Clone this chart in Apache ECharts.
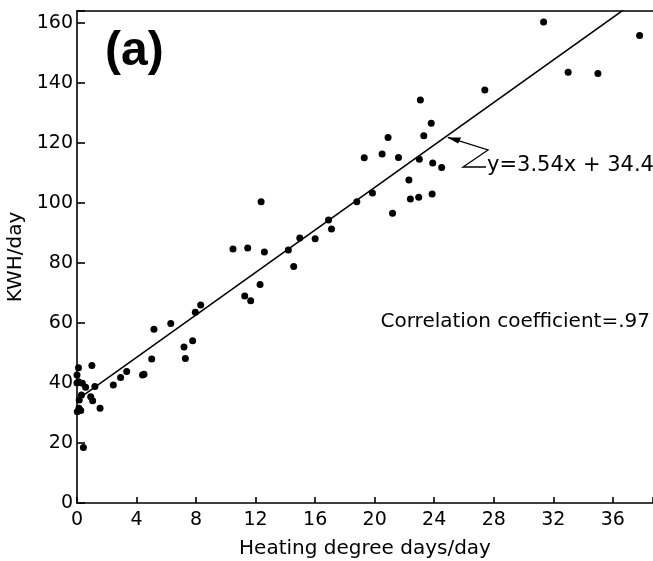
<!DOCTYPE html>
<html><head><meta charset="utf-8">
<script src="https://cdn.jsdelivr.net/npm/echarts@6/dist/echarts.min.js"></script>
<style>html,body{margin:0;padding:0;background:#fff}#c{width:653px;height:561px}</style>
</head><body><div id="c"></div>
<script>
const hdd = [0.0,0.1,0.1,0.36,0.58,1.0,1.2,0.3,0.15,0.92,1.05,1.55,0.13,0.25,0.02,0.43,0.0,
  2.44,2.93,3.34,4.4,4.5,5.02,5.17,6.3,7.19,7.28,7.77,7.95,8.31,
  10.48,11.27,11.47,11.67,12.3,12.37,12.59,14.2,14.56,14.97,16.0,16.9,17.1,
  18.8,19.3,19.85,20.5,20.9,21.2,21.6,22.3,22.4,22.96,23.0,23.07,23.3,23.8,23.86,23.9,24.5,
  27.4,31.35,33.0,35.0,37.8];
const kwh = [42.7,45.1,40.4,39.9,38.6,45.8,38.8,36.0,34.3,35.4,34.1,31.6,31.6,30.8,30.4,18.5,40.0,
  39.3,41.8,43.8,42.7,42.9,48.0,57.9,59.8,52.0,48.2,54.1,63.6,66.0,
  84.7,69.0,85.0,67.4,72.8,100.4,83.7,84.3,78.8,88.3,88.1,94.3,91.3,
  100.4,115.1,103.3,116.3,121.8,96.6,115.2,107.7,101.3,101.9,114.6,134.3,122.4,126.6,103.0,113.3,111.8,
  137.7,160.3,143.6,143.2,155.8];
const slope = 3.54, intercept = 34.4;
const fitRange = [0.4, 36.7];
const xTicks = [0,4,8,12,16,20,24,28,32,36];
const yTicks = [0,20,40,60,80,100,120,140,160];

const pts = hdd.map((x,i)=>[x,kwh[i]]);
const fit = fitRange.map(x=>[x, slope*x+intercept]);
const F = 'DejaVu Sans';
const chart = echarts.init(document.getElementById('c'));
chart.setOption({
  animation:false,
  backgroundColor:'#fff',
  grid:{left:77,right:0,top:11,bottom:58,containLabel:false,outerBoundsMode:'none'},
  xAxis:[{type:'value',min:0,max:38.7,interval:4,
    name:'Heating degree days/day',nameLocation:'middle',nameGap:36,
    nameTextStyle:{color:'#000',fontFamily:F,fontSize:20},
    axisLine:{lineStyle:{color:'#000',width:1.6}},
    axisTick:{inside:true,length:6,lineStyle:{color:'#000',width:1.6}},
    axisLabel:{color:'#000',fontFamily:F,fontSize:19,margin:8,
      formatter:v=>xTicks.includes(v)?String(v):''},
    splitLine:{show:false}},
   {type:'value',position:'top',min:0,max:38.7,
    axisLine:{show:true,lineStyle:{color:'#000',width:1.6}},
    axisTick:{show:false},axisLabel:{show:false},splitLine:{show:false}}],
  yAxis:{type:'value',min:0,max:164,interval:20,
    name:'KWH/day',nameLocation:'middle',nameGap:47,
    nameTextStyle:{color:'#000',fontFamily:F,fontSize:20},
    axisLine:{show:true,lineStyle:{color:'#000',width:1.6}},
    axisTick:{show:true,inside:true,length:8,lineStyle:{color:'#000',width:1.6}},
    axisLabel:{color:'#000',fontFamily:F,fontSize:19,margin:4,
      formatter:v=>yTicks.includes(v)?String(v):''},
    splitLine:{show:false}},
  series:[
    {type:'scatter',data:pts,symbolSize:7,itemStyle:{color:'#000',opacity:1}},
    {type:'line',data:fit,symbol:'none',lineStyle:{color:'#000',width:1.5}}
  ]
});
const p = (x,y)=>chart.convertToPixel({xAxisIndex:0,yAxisIndex:0},[x,y]);
const tip = p(24.8, slope*24.8+intercept);
chart.setOption({graphic:[
  {type:'text',left:105,top:28,style:{text:'(a)',font:'bold 48px "Liberation Sans"',fill:'#000'}},
  {type:'polyline',shape:{points:[[tip[0]+2,tip[1]+1],[488,150],[463,167],[486,167]]},
    style:{stroke:'#000',lineWidth:1.3,fill:null}},
  {type:'polygon',shape:{points:[[tip[0]+1,tip[1]+1],[tip[0]+15,tip[1]+1],[tip[0]+12,tip[1]+7]]},
    style:{fill:'#000'}},
  {type:'text',left:487,top:155,style:{text:'y=3.54x + 34.4',font:'21px "DejaVu Sans"',fill:'#000'}},
  {type:'text',right:3,top:312,style:{text:'Correlation coefficient=.97',font:'20px "DejaVu Sans"',fill:'#000'}}
]});
</script></body></html>
